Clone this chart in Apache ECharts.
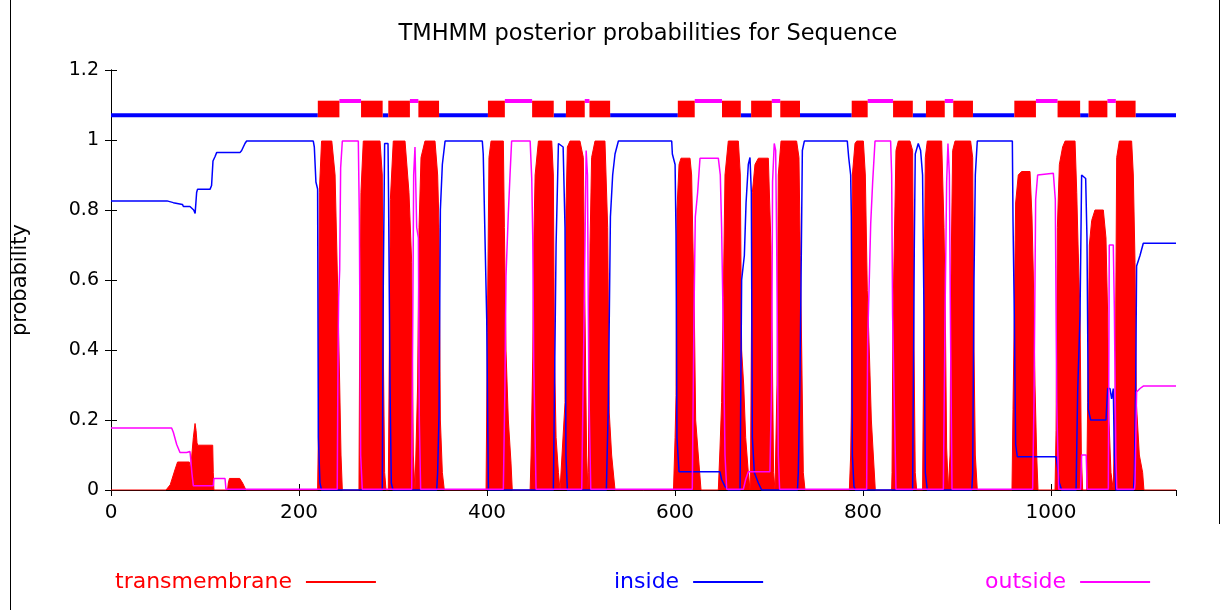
<!DOCTYPE html>
<html><head><meta charset="utf-8">
<script src="https://cdn.jsdelivr.net/npm/echarts@6/dist/echarts.min.js"></script>
<style>html,body{margin:0;padding:0;background:#fff}#c{width:1224px;height:610px}</style>
</head><body><div id="c"></div>
<script>
const chartTitle = 'TMHMM posterior probabilities for Sequence';
const yAxisName = 'probability';
const seqLength = 1133;
const xTickLabels = [0, 200, 400, 600, 800, 1000];
const yTickLabels = ['0', '0.2', '0.4', '0.6', '0.8', '1', '1.2'];
const seriesNames = ['transmembrane', 'inside', 'outside'];

// posterior probability for transmembrane
const tmProb = [
 [0,0],[58.5,0],[63,0.015],[68.3,0.06],[70.8,0.08],[83.3,0.08],[84.5,0.06],[86,0.1],[87.6,0.15],[89.4,0.19],[90.5,0.17],[91.5,0.135],[92.2,0.128],[108.2,0.128],[108.8,0.05],[109.5,0],
 [124,0],[124.8,0.02],[126,0.033],[137,0.033],[140,0.02],[143.6,0],
 [219.8,0],[220.6,0.15],[221.6,0.85],[224,0.997],[234.9,0.997],[238.4,0.9],[240.1,0.7],[241.8,0.5],[243.3,0.3],[244.7,0.1],[246.1,0],
 [263.8,0],[264.5,0.4],[265.9,0.85],[268.4,0.997],[286.2,0.997],[288.6,0.9],[289.7,0.4],[291.1,0.05],[292.6,0],
 [295,0],[296.1,0.4],[297.2,0.83],[300.3,0.997],[312.8,0.997],[317,0.85],[319.9,0.65],[321.6,0.1],[323.4,0],
 [325.2,0],[326.2,0.3],[327.7,0.75],[329.8,0.95],[334,0.997],[344.7,0.997],[347.5,0.9],[349,0.75],[350.4,0.2],[352.5,0.05],[354.6,0],
 [399,0],[400.4,0.45],[402.1,0.95],[404.3,0.997],[417.4,0.997],[418.5,0.75],[420.2,0.4],[422.7,0.2],[425.5,0.08],[426.9,0],
 [445.9,0],[446.9,0.1],[448.7,0.38],[449.7,0.7],[451.2,0.9],[454.7,0.997],[468.9,0.997],[470.6,0.9],[471.7,0.4],[473.5,0.15],[476,0.05],[477.7,0],
 [479.4,0],[483,0.25],[484,0.8],[485.5,0.98],[488.3,0.997],[498.9,0.997],[502.5,0.95],[504.3,0.5],[506,0.1],[507.4,0],
 [507.8,0.05],[509.6,0.7],[511.3,0.95],[514.9,0.997],[525.5,0.997],[528.4,0.75],[530.1,0.22],[532.6,0.1],[536.2,0],
 [598.4,0],[600.1,0.15],[601.1,0.27],[602.1,0.8],[604.3,0.93],[606.4,0.948],[616,0.948],[617.7,0.9],[620.6,0.5],[622,0.2],[624.8,0.1],[627.7,0],
 [646.1,0],[647.9,0.12],[649.6,0.25],[651.4,0.55],[653.2,0.9],[656.7,0.997],[667.4,0.997],[669.5,0.9],[670.9,0.4],[673.1,0.3],[675.2,0.15],[678,0.05],[679.8,0],
 [680.2,0],[680.5,0.1],[682.3,0.85],[685.1,0.93],[688.7,0.948],[699.3,0.948],[702.1,0.7],[703.5,0.4],[704.9,0.05],[706.4,0],
 [707.1,0],[708.5,0.3],[709.9,0.9],[712.8,0.997],[729.4,0.997],[731.9,0.95],[733.3,0.67],[734.8,0.4],[736.5,0.05],[738.3,0],
 [785.5,0],[786.9,0.1],[787.6,0.22],[788.7,0.9],[791.5,0.99],[793.3,0.997],[800.4,0.997],[802.5,0.9],[804.6,0.57],[806.7,0.4],[808.9,0.2],[811,0.1],[813.1,0],
 [830.5,0],[830.9,0.05],[831.9,0.5],[833.3,0.7],[835.1,0.97],[837.6,0.997],[850,0.997],[852.8,0.97],[854.3,0.4],[855.6,0.05],[857.1,0],
 [863.4,0],[864.9,0.5],[866.3,0.95],[868.4,0.997],[883.7,0.997],[886.2,0.75],[887.6,0.5],[889,0.12],[890.8,0],
 [891.1,0],[892.6,0.1],[893.6,0.6],[895.4,0.97],[897.9,0.997],[914.5,0.997],[916.7,0.95],[918.1,0.4],[919.5,0.1],[921.6,0],
 [958.5,0],[959.6,0.23],[961,0.5],[962.4,0.82],[965.2,0.9],[968.7,0.91],[977.7,0.91],[979.8,0.78],[981.2,0.62],[983,0.3],[984.8,0.1],[986.2,0],
 [1004.3,0],[1005.4,0.17],[1006.8,0.75],[1008.9,0.93],[1012.4,0.98],[1015,0.997],[1025.6,0.997],[1027.4,0.85],[1028.8,0.7],[1030.9,0.5],[1032.3,0.1],[1033.7,0],
 [1038,0],[1039,0.25],[1040.8,0.7],[1043.3,0.77],[1046.8,0.8],[1055.7,0.8],[1058.5,0.72],[1060.3,0.5],[1061.7,0.2],[1063.8,0.05],[1066.3,0],
 [1067,0],[1068.4,0.3],[1069.9,0.95],[1072.7,0.997],[1085.8,0.997],[1087.6,0.9],[1089.4,0.65],[1090.8,0.25],[1094,0.1],[1097.5,0.05],[1098.9,0],[1133,0]
];

// posterior probability for inside
const insideProb = [
 [0,0.826],[59.6,0.826],[60.5,0.821],[66.3,0.821],[67,0.816],[76,0.816],[77,0.81],[84,0.81],[86,0.805],[88,0.8],[89.5,0.79],[91.1,0.85],[92,0.859],[105.3,0.859],[107,0.87],[108.5,0.94],[110.6,0.952],[112.4,0.964],[137.2,0.964],[139,0.97],[142.5,0.99],[144.3,0.997],[215.2,0.997],[216.3,0.98],[218,0.88],[219.8,0.86],[220.6,0.15],[222.3,0.02],[224,0],
 [288.6,0],[289.7,0.6],[291.1,0.99],[294.7,0.99],[295.3,0.83],[296.8,0.3],[298.2,0.02],[300,0],
 [346.5,0],[347.5,0.05],[349,0.22],[350.4,0.8],[352.5,0.93],[355.4,0.997],
 [395,0.997],[396,0.96],[399.7,0.49],[401.5,0],
 [470.6,0],[473.5,0.7],[476,0.99],[481,0.98],[483,0.75],[484,0.1],[485.5,0],
 [527,0],[529.1,0.25],[531.3,0.78],[533.7,0.9],[536.2,0.96],[539.8,0.997],
 [596.5,0.997],[597.2,0.96],[600.1,0.93],[601.1,0.73],[602.1,0.15],[604.3,0.052],[647.9,0.052],[649.6,0.03],[653.2,0.01],[656.7,0],
 [669.2,0],[670.9,0.6],[673.8,0.67],[675.6,0.82],[678,0.93],[679.8,0.95],[681.2,0.85],[682.3,0.15],[684.4,0.05],[688.7,0.02],[692.2,0],
 [730.3,0],[731.2,0.05],[733,0.33],[734.1,0.6],[735.5,0.97],[737.6,0.997],
 [783.3,0.997],[784.8,0.95],[786.9,0.9],[787.6,0.78],[788.7,0.1],[790.4,0.01],[792,0],
 [852.8,0],[854.6,0.7],[855.6,0.96],[858.8,0.99],[861.3,0.97],[863.4,0.9],[864.9,0.5],[866.3,0.05],[868.4,0],
 [915.8,0],[916.7,0.05],[918.1,0.6],[919.5,0.9],[921.6,0.997],
 [958.9,0.997],[959.6,0.77],[961,0.5],[962.4,0.13],[964.2,0.095],[1005.4,0.095],[1006.8,0.07],[1008.9,0.02],[1011.4,0],
 [1026.7,0],[1028.4,0.28],[1030.9,0.5],[1032.6,0.9],[1036.9,0.89],[1038.3,0.72],[1039.7,0.23],[1042.2,0.2],[1058.5,0.2],[1060.3,0.29],[1062.8,0.29],[1064.5,0.26],[1066.3,0.29],[1067.4,0.1],[1069.1,0],
 [1087.8,0],[1088.7,0.05],[1090.1,0.3],[1091.1,0.64],[1094.7,0.67],[1098.2,0.705],[1133,0.705]
];

// posterior probability for outside
const outsideProb = [
 [0,0.177],[64.5,0.177],[66.3,0.165],[69.9,0.13],[73.4,0.107],[80.5,0.107],[81,0.11],[84,0.11],[84.8,0.09],[86,0.05],[87.6,0.012],[108.8,0.012],[109.5,0.033],[121.3,0.033],[122.3,0.002],
 [240.7,0.002],[241.5,0.38],[242.2,0.55],[243.3,0.63],[244.3,0.92],[246.1,0.997],[263.1,0.997],[264.2,0.78],[265.6,0.1],[267.3,0.002],
 [319.9,0.002],[322,0.9],[323.4,0.98],[325.2,0.75],[327,0.72],[328,0.2],[329.4,0.002],
 [417.4,0.002],[419.1,0.3],[420.2,0.61],[422.7,0.79],[424.5,0.9],[426.2,0.997],[445.9,0.997],[447.6,0.89],[448.7,0.72],[449.7,0.36],[452.2,0.002],
 [500.8,0.002],[503.3,0.5],[505.5,0.97],[506.9,0.9],[508.3,0.3],[510.4,0.002],
 [618.4,0.002],[620.2,0.5],[621.6,0.78],[624.1,0.85],[626.6,0.948],[646.1,0.948],[648.2,0.9],[649.6,0.75],[651.4,0.45],[653.2,0.1],[655,0.002],
 [672.7,0.002],[675.2,0.03],[678,0.052],[701,0.052],[702.8,0.3],[703.8,0.88],[705.6,0.99],[707.1,0.97],[708.2,0.7],[709.9,0.1],[711.3,0.002],
 [803.9,0.002],[805,0.43],[806.7,0.6],[808.2,0.76],[810.3,0.88],[812.8,0.997],[829.4,0.997],[830.5,0.9],[831.5,0.5],[832.9,0.3],[835.1,0.002],
 [885.5,0.002],[887.3,0.5],[889,0.88],[890.4,0.99],[891.9,0.9],[893.3,0.4],[894.7,0.002],
 [980.5,0.002],[981.9,0.25],[983.7,0.83],[985.8,0.9],[1002.5,0.905],[1004.6,0.83],[1006.1,0.25],[1008.2,0.002],
 [1031.5,0.002],[1032.6,0.1],[1037.5,0.1],[1038.5,0.002],
 [1061,0.002],[1062,0.7],[1066.3,0.7],[1067.4,0.52],[1069,0.1],[1070,0.002],
 [1088.8,0.002],[1089.4,0.02],[1091.1,0.28],[1094.7,0.29],[1098.2,0.297],[1133,0.297]
];

// predicted topology (start, end)
const tmSegments = [[220,243],[266,289],[295,318],[327,349],[401,419],[448,471],[484,504],[509,531],[603,621],[650,670],[681,703],[712,733],[788,805],[832,853],[867,887],[896,917],[961,984],[1007,1031],[1040,1060],[1069,1090]];
const insideSegments = [[0,220],[289,295],[349,401],[471,484],[531,603],[670,681],[733,788],[853,867],[917,961],[1031,1040],[1090,1133]];
const outsideSegments = [[243,266],[318,327],[419,448],[504,509],[621,650],[703,712],[805,832],[887,896],[984,1007],[1060,1069]];

const RED = '#ff0000', BLUE = '#0000ff', MAG = '#ff00ff';
const FONT = 'DejaVu Sans';

function bandSeries(name, segs, lo, hi, color) {
  return {
    type: 'custom', name: name, data: segs, encode: { x: [0, 1] }, silent: true, z: 5,
    renderItem: function (params, api) {
      const p1 = api.coord([api.value(0), hi]);
      const p2 = api.coord([api.value(1), lo]);
      return { type: 'rect', shape: { x: p1[0], y: p1[1], width: p2[0] - p1[0], height: p2[1] - p1[1] }, style: { fill: color } };
    }
  };
}

const axisLineStyle = { show: true, lineStyle: { color: '#000', width: 1 } };
const tickStyle = { show: true, inside: true, length: 6, lineStyle: { color: '#000' } };

function legendFor(name, left, color) {
  return {
    data: [name], left: left, top: 571, align: 'right', icon: 'rect', padding: 0,
    itemWidth: 70, itemHeight: 2, selectedMode: false,
    textStyle: { color: color, fontSize: 22, fontFamily: FONT, padding: [0, 9, 0, 0] }
  };
}

const chart = echarts.init(document.getElementById('c'), null, { renderer: 'canvas' });
chart.setOption({
  animation: false,
  backgroundColor: '#fff',
  title: { text: chartTitle, left: 643, top: 18, textAlign: 'center',
    textStyle: { color: '#000', fontWeight: 'normal', fontSize: 22.5, fontFamily: FONT } },
  grid: { left: 111, top: 70, width: 1065, height: 420 },
  legend: [legendFor(seriesNames[0], 115, RED), legendFor(seriesNames[1], 614, BLUE), legendFor(seriesNames[2], 985, MAG)],
  xAxis: [
    { type: 'value', position: 'bottom', min: 0, max: seqLength, interval: 200,
      axisLine: axisLineStyle, axisTick: tickStyle, splitLine: { show: false },
      axisLabel: { color: '#000', fontSize: 20, fontFamily: FONT, margin: 13, showMaxLabel: false,
        formatter: function (v) { return xTickLabels.indexOf(v) >= 0 ? String(v) : ''; } } },
    { type: 'value', position: 'top', min: 0, max: seqLength, interval: 200,
      axisLine: axisLineStyle, axisTick: tickStyle, splitLine: { show: false }, axisLabel: { show: false } }
  ],
  yAxis: [
    { type: 'value', position: 'left', min: 0, max: 1.2, interval: 0.2,
      name: yAxisName, nameLocation: 'middle', nameRotate: 90, nameGap: 80,
      nameTextStyle: { color: '#000', fontSize: 21, fontFamily: FONT },
      axisLine: axisLineStyle, axisTick: tickStyle, splitLine: { show: false },
      axisLabel: { color: '#000', fontSize: 19, fontFamily: FONT, margin: 12,
        formatter: function (v, i) { return yTickLabels[i] !== undefined ? yTickLabels[i] : ''; } } },
    { type: 'value', position: 'right', min: 0, max: 1.2, interval: 0.2,
      axisLine: axisLineStyle, axisTick: tickStyle, splitLine: { show: false }, axisLabel: { show: false } }
  ],
  series: [
    { type: 'line', name: seriesNames[0], data: tmProb, symbol: 'none', color: RED,
      lineStyle: { color: RED, width: 1 }, areaStyle: { color: RED, opacity: 1 }, z: 2 },
    { type: 'line', name: seriesNames[1], data: insideProb, symbol: 'none', color: BLUE,
      lineStyle: { color: BLUE, width: 1.5 }, z: 3 },
    { type: 'line', name: seriesNames[2], data: outsideProb, symbol: 'none', color: MAG,
      lineStyle: { color: MAG, width: 1.5 }, z: 4 },
    bandSeries('band-inside', insideSegments, 1.0648, 1.0762, BLUE),
    bandSeries('band-outside', outsideSegments, 1.1057, 1.1171, MAG),
    bandSeries('band-tm', tmSegments, 1.0648, 1.1123, RED)
  ],
  graphic: [
    { type: 'line', silent: true, shape: { x1: 10.5, y1: 0, x2: 10.5, y2: 610 }, style: { stroke: '#000', lineWidth: 1 } },
    { type: 'line', silent: true, shape: { x1: 1219.5, y1: 0, x2: 1219.5, y2: 524 }, style: { stroke: '#000', lineWidth: 1 } }
  ]
});
</script>
</body></html>
